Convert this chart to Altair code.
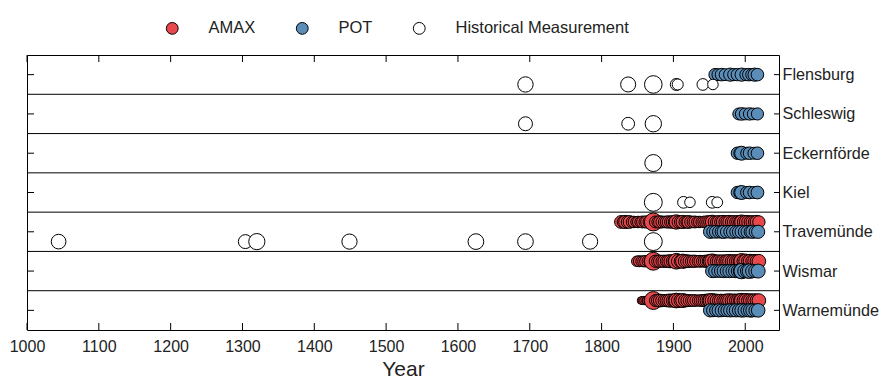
import altair as alt
import pandas as pd

# ---------------- data ----------------
stations = ["Flensburg", "Schleswig", "Eckernförde", "Kiel", "Travemünde", "Wismar", "Warnemünde"]
types = ["AMAX", "POT", "Historical Measurement"]
type_colors = ["#E8474C", "#5B8DB9", "#FFFFFF"]
tick_years = [1000, 1100, 1200, 1300, 1400, 1500, 1600, 1700, 1800, 1900, 2000]

# water levels (m) -> circle size
flensburg_hist_years = [1694, 1837, 1872, 1904, 1906, 1941, 1955]
flensburg_hist_level = [2.5, 2.4, 3.2, 1.6, 1.4, 1.55, 1.3]
flensburg_pot_years = [1958, 1962, 1967, 1972, 1979, 1984, 1989, 1995, 2001, 2005, 2009, 2013, 2017]
flensburg_pot_level = [1.7, 1.6, 1.75, 1.6, 1.9, 1.65, 1.7, 1.9, 1.65, 1.75, 1.6, 1.9, 1.75]

schleswig_hist_years = [1694, 1837, 1872]
schleswig_hist_level = [2.1, 1.8, 2.8]
schleswig_pot_years = [1991, 1995, 2000, 2006, 2011, 2017]
schleswig_pot_level = [1.6, 1.75, 1.6, 1.7, 1.55, 1.65]

eckernfoerde_hist_years = [1872]
eckernfoerde_hist_level = [3.0]
eckernfoerde_pot_years = [1989, 1993, 1995, 2002, 2006, 2012, 2017]
eckernfoerde_pot_level = [1.7, 1.8, 2.1, 1.6, 1.75, 1.6, 1.75]

kiel_hist_years = [1872, 1914, 1923, 1954, 1961]
kiel_hist_level = [3.3, 1.55, 1.3, 1.55, 1.35]
kiel_pot_years = [1989, 1993, 1995, 2002, 2006, 2012, 2017]
kiel_pot_level = [1.7, 1.85, 2.1, 1.65, 1.75, 1.6, 1.8]

travemuende_hist_years = [1044, 1304, 1320, 1449, 1625, 1694, 1784, 1872]
travemuende_hist_level = [2.3, 2.1, 2.75, 2.45, 2.6, 2.6, 2.45, 3.3]
travemuende_amax_years = [1827, 1830, 1833, 1836, 1839, 1842, 1845, 1848, 1851, 1854, 1857, 1860,
                          1863, 1866, 1869, 1872, 1875, 1878, 1881, 1884, 1887, 1890, 1893, 1896,
                          1899, 1902, 1904, 1907, 1910, 1913, 1916, 1919, 1921, 1924, 1927, 1930,
                          1933, 1936, 1939, 1942, 1945, 1948, 1951, 1954, 1957, 1960, 1963, 1966,
                          1969, 1972, 1975, 1978, 1981, 1984, 1987, 1990, 1993, 1995, 1998, 2001,
                          2004, 2007, 2010, 2013, 2016, 2019]
travemuende_amax_level = [1.8, 1.6, 1.9, 1.7, 1.8, 1.4, 1.5, 1.3, 1.5, 1.4, 1.6, 1.5,
                          1.7, 1.6, 1.5, 3.3, 1.6, 1.5, 1.7, 1.6, 1.5, 1.6, 1.7, 1.6,
                          1.8, 1.9, 2.2, 1.8, 1.7, 1.9, 1.6, 1.7, 1.8, 1.6, 1.5, 1.6,
                          1.4, 1.5, 1.4, 1.5, 1.6, 1.7, 1.8, 2.0, 1.7, 1.6, 1.8, 1.7,
                          1.9, 1.7, 1.8, 1.9, 1.7, 1.8, 1.7, 1.8, 1.9, 2.1, 1.8, 1.9,
                          1.8, 1.7, 1.8, 1.7, 1.9, 1.7]
travemuende_pot_years = [1951, 1955, 1959, 1963, 1967, 1970, 1974, 1979, 1983, 1987, 1991, 1995,
                         1999, 2003, 2007, 2010, 2014, 2018]
travemuende_pot_level = [1.9, 1.7, 1.8, 1.7, 1.8, 1.9, 1.7, 1.8, 1.9, 1.7, 1.8, 1.9,
                         1.7, 1.8, 1.7, 1.9, 1.7, 1.9]

wismar_amax_years = [1849, 1852, 1855, 1858, 1861, 1864, 1867, 1872, 1875, 1878, 1881, 1884,
                     1887, 1890, 1893, 1896, 1899, 1902, 1904, 1907, 1910, 1913, 1916, 1919,
                     1922, 1925, 1928, 1931, 1934, 1937, 1940, 1943, 1946, 1949, 1951, 1954,
                     1957, 1960, 1963, 1966, 1969, 1972, 1975, 1978, 1981, 1984, 1987, 1990,
                     1993, 1995, 1998, 2001, 2004, 2007, 2010, 2013, 2016, 2019]
wismar_amax_level = [1.3, 1.4, 1.3, 1.4, 1.5, 1.4, 1.5, 3.3, 1.7, 1.6, 1.7, 1.6,
                     1.7, 1.6, 1.8, 1.9, 1.8, 2.0, 2.6, 2.1, 1.8, 2.2, 1.9, 1.8,
                     1.7, 1.6, 1.7, 1.6, 1.5, 1.6, 1.5, 1.6, 1.7, 1.8, 2.0, 2.3,
                     1.9, 1.7, 1.8, 1.7, 1.8, 1.7, 1.9, 2.0, 1.8, 1.9, 1.8, 1.9,
                     2.1, 2.5, 2.0, 2.2, 1.9, 2.1, 1.9, 2.0, 1.9, 2.0]
wismar_pot_years = [1954, 1958, 1962, 1966, 1970, 1974, 1978, 1982, 1986, 1990, 1993, 1995,
                    1999, 2003, 2006, 2010, 2014, 2018]
wismar_pot_level = [1.9, 1.8, 1.7, 1.8, 1.9, 1.8, 1.9, 1.8, 1.9, 2.0, 2.1, 2.5,
                    2.0, 2.1, 2.3, 2.0, 1.9, 2.1]

warnemuende_amax_years = [1855, 1857, 1859, 1861, 1863, 1865, 1867, 1872, 1875, 1878, 1881, 1884,
                          1887, 1890, 1893, 1896, 1899, 1902, 1904, 1907, 1910, 1913, 1916, 1919,
                          1922, 1925, 1928, 1931, 1934, 1937, 1940, 1943, 1946, 1949, 1951, 1954,
                          1957, 1960, 1963, 1966, 1969, 1972, 1975, 1978, 1981, 1984, 1987, 1990,
                          1993, 1995, 1998, 2001, 2004, 2007, 2010, 2013, 2016, 2019]
warnemuende_amax_level = [0.8, 0.85, 0.9, 0.8, 0.95, 0.9, 1.0, 3.3, 1.6, 1.7, 1.8, 1.7,
                          1.6, 1.7, 1.8, 1.9, 1.8, 2.0, 2.3, 2.1, 1.9, 2.1, 1.8, 1.7,
                          1.6, 1.5, 1.6, 1.5, 1.4, 1.5, 1.6, 1.7, 1.8, 1.9, 2.0, 2.1,
                          1.9, 1.8, 1.7, 1.8, 1.7, 1.8, 1.9, 2.0, 1.8, 1.9, 1.8, 1.9,
                          2.0, 2.2, 2.0, 2.1, 1.9, 2.0, 1.9, 2.0, 1.9, 2.0]
warnemuende_pot_years = [1951, 1955, 1959, 1963, 1967, 1971, 1975, 1979, 1983, 1987, 1991, 1995,
                         1999, 2003, 2007, 2010, 2014, 2018]
warnemuende_pot_level = [1.9, 1.8, 1.7, 1.9, 1.8, 1.7, 1.8, 1.9, 1.8, 1.9, 1.8, 2.0,
                         1.9, 1.8, 2.0, 1.9, 1.8, 2.0]

series = [
    ("Flensburg", "POT", flensburg_pot_years, flensburg_pot_level),
    ("Flensburg", "Historical Measurement", flensburg_hist_years, flensburg_hist_level),
    ("Schleswig", "POT", schleswig_pot_years, schleswig_pot_level),
    ("Schleswig", "Historical Measurement", schleswig_hist_years, schleswig_hist_level),
    ("Eckernförde", "POT", eckernfoerde_pot_years, eckernfoerde_pot_level),
    ("Eckernförde", "Historical Measurement", eckernfoerde_hist_years, eckernfoerde_hist_level),
    ("Kiel", "POT", kiel_pot_years, kiel_pot_level),
    ("Kiel", "Historical Measurement", kiel_hist_years, kiel_hist_level),
    ("Travemünde", "AMAX", travemuende_amax_years, travemuende_amax_level),
    ("Travemünde", "POT", travemuende_pot_years, travemuende_pot_level),
    ("Travemünde", "Historical Measurement", travemuende_hist_years, travemuende_hist_level),
    ("Wismar", "AMAX", wismar_amax_years, wismar_amax_level),
    ("Wismar", "POT", wismar_pot_years, wismar_pot_level),
    ("Warnemünde", "AMAX", warnemuende_amax_years, warnemuende_amax_level),
    ("Warnemünde", "POT", warnemuende_pot_years, warnemuende_pot_level),
]

# vertical slot of each series inside its station row (fraction of a row)
slot = {"AMAX": -0.25, "POT": 0.0, "Historical Measurement": 0.25}

records = []
for st, tp, yrs, lvls in series:
    for yr, lv in zip(yrs, lvls):
        records.append({"station": st, "type": tp, "year": yr, "level": lv,
                        "row": stations.index(st) + 0.5 + slot[tp],
                        "layer": types.index(tp)})
df = pd.DataFrame(records).sort_values(["layer", "year"]).reset_index(drop=True)
df["draw"] = range(len(df))

# ---------------- chart ----------------
W, H = 752, 275
TICK = 7
TXT = "#222222"

row_centers = [i + 0.5 for i in range(len(stations))]
row_bounds = list(range(1, len(stations)))
label_expr = "[" + ",".join("'%s'" % s for s in stations) + "][floor(datum.value)]"

x_scale = alt.Scale(domain=[1000, 2047], nice=False, zero=False)
y_scale = alt.Scale(domain=[0, len(stations)], reverse=True, nice=False, zero=False)

x_axis = alt.Axis(values=tick_years, format="d", ticks=False, domain=False, grid=False,
                  labelFlush=False, labelFontSize=16, labelPadding=8, labelColor=TXT,
                  title="Year", titleFontSize=21, titleFontWeight="normal", titleColor=TXT,
                  titlePadding=4)
y_axis = alt.Axis(orient="right", title=None, ticks=False, domain=False, grid=False,
                  values=row_centers, labelExpr=label_expr, labelFlush=False,
                  labelFontSize=16.2, labelPadding=3, labelColor=TXT)

separators = alt.Chart(pd.DataFrame({"b": row_bounds})).mark_rule(
    color="black", strokeWidth=1
).encode(y=alt.Y("b:Q", scale=y_scale, axis=y_axis))

points = alt.Chart(df).mark_circle(stroke="black", strokeWidth=1, opacity=1).encode(
    x=alt.X("year:Q", scale=x_scale, axis=x_axis),
    y=alt.Y("row:Q", scale=y_scale, axis=y_axis),
    fill=alt.Fill("type:N", scale=alt.Scale(domain=types, range=type_colors),
                  legend=alt.Legend(title=None, orient="none", direction="horizontal",
                                    legendX=137, legendY=-35,
                                    symbolType="circle", symbolSize=140,
                                    symbolStrokeColor="black", symbolStrokeWidth=1,
                                    symbolOpacity=1, labelLimit=400,
                                    labelFontSize=16.5, labelColor=TXT, labelOffset=28,
                                    columnPadding=38)),
    size=alt.Size("level:Q", scale=alt.Scale(domain=[1.0, 3.3], range=[80, 320]), legend=None),
    order=alt.Order("draw:Q"),
    tooltip=["station:N", "type:N", "year:Q"],
)

tick_df = pd.DataFrame({"year": tick_years})
top_ticks = alt.Chart(tick_df).mark_rule(color="black", strokeWidth=1).encode(
    x=alt.X("year:Q", scale=x_scale, axis=x_axis), y=alt.value(0), y2=alt.value(TICK))
bottom_ticks = alt.Chart(tick_df).mark_rule(color="black", strokeWidth=1).encode(
    x=alt.X("year:Q", scale=x_scale, axis=x_axis), y=alt.value(H - TICK), y2=alt.value(H))

st_df = pd.DataFrame({"c": row_centers})
left_ticks = alt.Chart(st_df).mark_rule(color="black", strokeWidth=1).encode(
    y=alt.Y("c:Q", scale=y_scale, axis=y_axis), x=alt.value(0), x2=alt.value(TICK))
right_ticks = alt.Chart(st_df).mark_rule(color="black", strokeWidth=1).encode(
    y=alt.Y("c:Q", scale=y_scale, axis=y_axis), x=alt.value(W - 5), x2=alt.value(W))

chart = alt.layer(separators, points, top_ticks, bottom_ticks, left_ticks, right_ticks).properties(
    width=W, height=H,
    padding={"left": 1, "top": 12, "right": 0, "bottom": 5},
).configure(font="Liberation Sans").configure_view(stroke="black", strokeWidth=1)

chart.save("out.html", embed_options={"renderer": "svg", "actions": False})
